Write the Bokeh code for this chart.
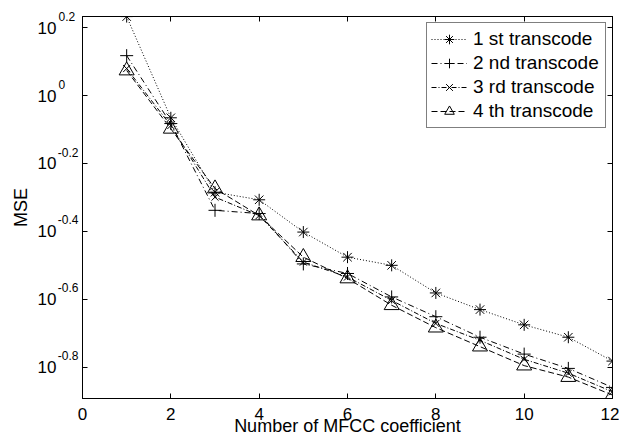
from bokeh.plotting import figure
from bokeh.models import (LogAxis, LinearAxis, FixedTicker, Legend, LegendItem,
                          Range1d, LogScale)
from bokeh.embed import file_html
from bokeh.resources import INLINE

# ---- data ----
coeff = [1, 2, 3, 4, 5, 6, 7, 8, 9, 10, 11, 12]
mse_1st = [1.709, 0.860, 0.519, 0.493, 0.396, 0.334, 0.316, 0.262, 0.234, 0.211, 0.194, 0.165]
mse_2nd = [1.311, 0.827, 0.459, 0.449, 0.319, 0.299, 0.255, 0.223, 0.194, 0.173, 0.157, 0.138]
mse_3rd = [1.201, 0.816, 0.502, 0.443, 0.323, 0.292, 0.249, 0.213, 0.190, 0.167, 0.152, 0.134]
mse_4th = [1.185, 0.798, 0.532, 0.443, 0.334, 0.289, 0.241, 0.207, 0.182, 0.160, 0.148, 0.131]
series_names = ["1 st transcode", "2 nd transcode", "3 rd transcode", "4 th transcode"]
x_ticks = [0, 2, 4, 6, 8, 10, 12]
y_exponents = ["0.2", "0", "-0.2", "-0.4", "-0.6", "-0.8"]

FONT = "Liberation Sans"
Y_LO, Y_HI = 0.128, 1.71

p = figure(width=619, height=439, x_range=(0, 12), y_range=(Y_LO, Y_HI),
           y_axis_type="log", output_backend="svg", toolbar_location=None,
           min_border_left=82, min_border_right=7, min_border_top=16,
           min_border_bottom=41)
p.background_fill_color = "white"
p.border_fill_color = "white"
p.grid.visible = False
p.outline_line_color = "black"
p.outline_line_width = 1

y_tick_vals = [10 ** float(e) for e in y_exponents]

# bottom axis
xa = p.xaxis[0]
xa.ticker = FixedTicker(ticks=x_ticks)
xa.major_tick_in = 5
xa.major_tick_out = 0
xa.minor_tick_line_color = None
xa.major_label_text_font = FONT
xa.major_label_text_font_size = "17px"
xa.major_label_text_color = "black"
xa.major_label_standoff = 9
xa.axis_line_color = "black"
xa.axis_label = "Number of MFCC coefficient"
xa.axis_label_text_font = FONT
xa.axis_label_text_font_size = "18px"
xa.axis_label_text_font_style = "normal"
xa.axis_label_text_color = "black"
xa.axis_label_standoff = -7

# main left axis: line + inward ticks only
ya = p.yaxis[0]
ya.ticker = FixedTicker(ticks=y_tick_vals)
ya.major_tick_in = 5
ya.major_tick_out = 0
ya.minor_tick_line_color = None
ya.major_label_text_font_size = "0px"
ya.major_label_standoff = 0
ya.axis_line_color = "black"

# exponent labels: an axis on a slightly shifted range so they sit raised
RAISE = 10 ** 0.032
p.extra_y_ranges = {"exp": Range1d(Y_LO / RAISE, Y_HI / RAISE)}
p.extra_y_scales = {"exp": LogScale()}
pad = {"0.2": "\u00a0", "0": "\u00a0\u00a0\u00a0\u00a0", "-0.2": "", "-0.4": "",
       "-0.6": "", "-0.8": ""}
ax_exp = LogAxis(y_range_name="exp", ticker=FixedTicker(ticks=y_tick_vals),
                 major_label_overrides={v: e + pad[e] for e, v in zip(y_exponents, y_tick_vals)},
                 axis_line_color=None, major_tick_line_color=None,
                 minor_tick_line_color=None, major_label_standoff=-2,
                 major_label_text_font=FONT, major_label_text_font_size="12px",
                 major_label_text_color="black")
p.add_layout(ax_exp, "left")

# base "10" labels + axis title
ax_ten = LogAxis(ticker=FixedTicker(ticks=y_tick_vals),
                 major_label_overrides={v: "10" for v in y_tick_vals},
                 axis_line_color=None, major_tick_line_color=None,
                 minor_tick_line_color=None, major_label_standoff=-8,
                 major_label_text_font=FONT, major_label_text_font_size="17px",
                 major_label_text_color="black",
                 axis_label="MSE", axis_label_text_font=FONT,
                 axis_label_text_font_size="18px", axis_label_text_font_style="normal",
                 axis_label_text_color="black", axis_label_standoff=4)
p.add_layout(ax_ten, "left")

# box ticks (top/right)
ax_top = LinearAxis(ticker=FixedTicker(ticks=x_ticks), major_label_text_font_size="0px",
                    major_tick_in=5, major_tick_out=0, minor_tick_line_color=None,
                    major_label_standoff=0)
p.add_layout(ax_top, "above")
ax_right = LogAxis(ticker=FixedTicker(ticks=y_tick_vals), major_label_text_font_size="0px",
                   major_tick_in=5, major_tick_out=0, minor_tick_line_color=None,
                   major_label_standoff=0)
p.add_layout(ax_right, "right")

styles = [
    (mse_1st, "1 2", "asterisk", 12),
    (mse_2nd, "6 3 1 3", "cross", 13),
    (mse_3rd, "5 2 1 2", "x", 10),
    (mse_4th, "6 3", "triangle", 15),
]
items = []
for name, (vals, dash, marker, size) in zip(series_names, styles):
    rl = p.line(coeff, vals, line_color="black", line_width=1, line_dash=dash)
    rm = p.scatter(coeff, vals, marker=marker, size=size, line_color="black",
                   fill_color=None, line_width=1)
    items.append(LegendItem(label=name, renderers=[rl, rm]))

legend = Legend(items=items, location="top_right", margin=6, padding=4, spacing=0,
                label_height=24, glyph_height=24, glyph_width=36, label_standoff=6,
                label_width=128, label_text_font=FONT, label_text_font_size="19px",
                label_text_color="black", border_line_color="black",
                border_line_width=1, background_fill_color="white",
                background_fill_alpha=1.0)
p.add_layout(legend)

open("out.html", "w").write(file_html(p, INLINE))
